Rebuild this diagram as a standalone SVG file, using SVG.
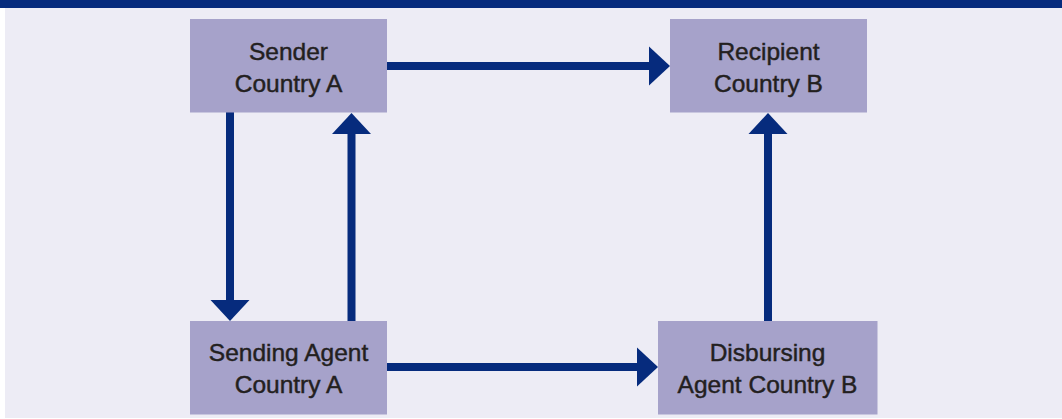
<svg xmlns="http://www.w3.org/2000/svg" width="1062" height="419" viewBox="0 0 1062 419">
  <style>
    .box { fill: #a6a2ca; }
    .lbl { font-family: "Liberation Sans", Arial, Helvetica, sans-serif; font-size: 24.5px; fill: #231f20; stroke: #231f20; stroke-width: 0.45; text-anchor: middle; }
    .shaft { stroke: #062b7d; stroke-width: 8; fill: none; }
    .head { fill: #062b7d; }
  </style>
  <rect x="0" y="0" width="1062" height="419" fill="#ffffff"/>
  <rect x="5" y="8" width="1057" height="410" fill="#edecf5"/>
  <rect x="0" y="0" width="1062" height="8" fill="#062b7d"/>

  <g id="connectors">
    <!-- Sender -> Recipient -->
    <line class="shaft" x1="387" y1="66" x2="650" y2="66"/>
    <polygon class="head" points="649,46.5 670,66 649,85.5"/>
    <!-- Sender -> Sending Agent (down) -->
    <line class="shaft" x1="230" y1="112" x2="230" y2="301"/>
    <polygon class="head" points="210.5,300 249.5,300 230,321"/>
    <!-- Sending Agent -> Sender (up) -->
    <line class="shaft" x1="351.5" y1="321" x2="351.5" y2="133"/>
    <polygon class="head" points="332,134 371,134 351.5,113"/>
    <!-- Sending Agent -> Disbursing -->
    <line class="shaft" x1="387" y1="367" x2="638" y2="367"/>
    <polygon class="head" points="637,347.5 658,367 637,386.5"/>
    <!-- Disbursing -> Recipient (up) -->
    <line class="shaft" x1="768" y1="321" x2="768" y2="133"/>
    <polygon class="head" points="748.5,134 787.5,134 768,113"/>
  </g>

  <g id="sender">
    <rect class="box" x="190" y="19" width="197" height="93.5"/>
    <text class="lbl" x="288.5" y="60">Sender</text>
    <text class="lbl" x="288.5" y="92">Country A</text>
  </g>
  <g id="recipient">
    <rect class="box" x="670" y="19" width="197" height="93.5"/>
    <text class="lbl" x="768.5" y="60">Recipient</text>
    <text class="lbl" x="768.5" y="91.5">Country B</text>
  </g>
  <g id="sending-agent">
    <rect class="box" x="190" y="321" width="197" height="93.5"/>
    <text class="lbl" x="288.5" y="361">Sending Agent</text>
    <text class="lbl" x="288.5" y="393">Country A</text>
  </g>
  <g id="disbursing-agent">
    <rect class="box" x="658" y="321" width="219.5" height="93.5"/>
    <text class="lbl" x="767.5" y="361">Disbursing</text>
    <text class="lbl" x="767.5" y="393">Agent Country B</text>
  </g>
</svg>
